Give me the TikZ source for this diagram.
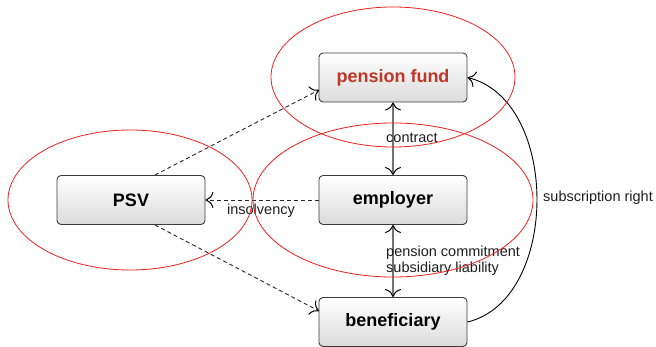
\documentclass[tikz,border=0pt]{standalone}
\usepackage{fontspec}
\setmainfont{Liberation Sans}
\usetikzlibrary{arrows.meta}
\definecolor{pfred}{RGB}{190,55,40}
\definecolor{boxline}{RGB}{60,60,60}
\definecolor{txt}{RGB}{30,30,30}
\definecolor{ellred}{RGB}{245,30,30}
\tikzset{
  box/.style={draw=boxline, line width=0.9pt, rounded corners=4pt, top color=white, bottom color=black!14,
    minimum width=148pt, minimum height=49pt, inner sep=0pt, font=\fontsize{18}{20}\selectfont\bfseries, text=black},
  lbl/.style={font=\fontsize{14.5}{16}\selectfont, text=txt, inner sep=0pt},
  tiphead/.tip={Computer Modern Rightarrow[length=8pt,width=16pt,color=black,line width=1pt]},
  tip/.style={-tiphead},
  tips/.style={tiphead-tiphead},
  dashcon/.style={draw=black!85, line width=0.9pt, dash pattern=on 4pt off 3pt},
  solidcon/.style={draw=black!55, line width=1.5pt},
  ring/.style={draw=ellred, line width=0.8pt}
}
\begin{document}
\begin{tikzpicture}[x=1pt,y=-1pt]
\useasboundingbox (0,0) rectangle (656,347);
\node[box, text=pfred] (pf) at (393,77.5) {pension fund};
\node[box] (psv) at (131,200) {PSV};
\node[box] (emp) at (393,200) {employer};
\node[box] (ben) at (393,322) {beneficiary};
\coordinate (psvtop) at (155,175);
\coordinate (psvbot) at (155,225);
\coordinate (pfleft) at (319,90);
\coordinate (benleft) at (319,311);
% connectors
\draw[solidcon, tips] (pf.south) -- (emp.north);
\draw[solidcon, tips] (emp.south) -- (ben.north);
\draw[dashcon, tip] (emp.west) -- (psv.east);
\draw[dashcon, tip] (psvtop) -- (pfleft);
\draw[dashcon, tip] (psvbot) -- (benleft);
\draw[black, line width=0.9pt, tip] (ben.east) .. controls (560,300) and (560,100) .. (pf.east);
% labels
\node[lbl, anchor=west] (lcontract) at (386,138) {contract};
\node[lbl] (linsolv) at (261,211) {insolvency};
\node[lbl, anchor=north west, align=left] (lcommit) at (386,246) {pension commitment\\subsidiary liability};
\node[lbl, anchor=west] (lsub) at (543,198) {subscription right};
% ellipses
\draw[ring] (393,77) ellipse [x radius=122, y radius=70];
\draw[ring] (393,200) ellipse [x radius=140, y radius=77];
\draw[ring] (130,200) ellipse [x radius=122, y radius=70];
\end{tikzpicture}
\end{document}
